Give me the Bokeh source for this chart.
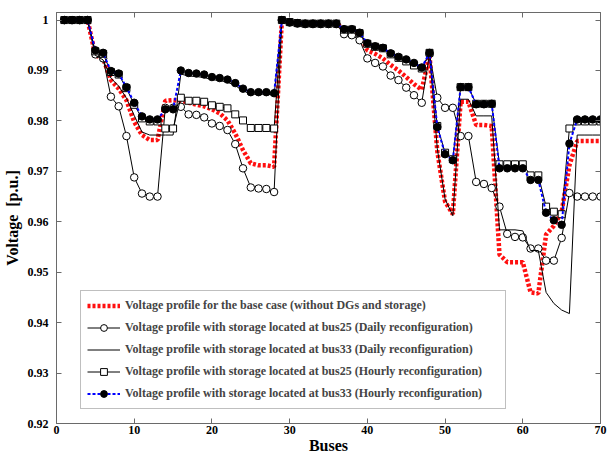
from bokeh.plotting import figure
from bokeh.models import LinearAxis, FixedTicker, Range1d, PrintfTickFormatter
from bokeh.embed import file_html
from bokeh.resources import INLINE

# Bus numbers along the feeder
buses = list(range(1, 71))

# Base case (no DGs, no storage)
v_base = [1.0, 1.0, 1.0, 1.0, 0.9930, 0.9924, 0.9881, 0.9864, 0.9841, 0.9798,
          0.9772, 0.9762, 0.9762, 0.9840, 0.9841, 0.9840, 0.9836, 0.9832, 0.9829, 0.9823,
          0.9815, 0.9801, 0.9775, 0.9742, 0.9716, 0.9712, 0.9712, 0.9709, 1.0, 0.9996,
          0.9994, 0.9993, 0.9993, 0.9993, 0.9993, 0.9993, 0.9982, 0.9982, 0.9970, 0.9940,
          0.9933, 0.9924, 0.9911, 0.9900, 0.9887, 0.9873, 0.9862, 0.9930, 0.9740, 0.9640,
          0.9615, 0.9838, 0.9838, 0.9792, 0.9792, 0.9790, 0.9535, 0.9520, 0.9520, 0.9520,
          0.9460, 0.9458, 0.9575, 0.9592, 0.9620, 0.9712, 0.9760, 0.9760, 0.9760, 0.9760]

# Storage at bus 25, daily reconfiguration
v_s25_daily = [1.0, 1.0, 1.0, 1.0, 0.9932, 0.9924, 0.9848, 0.9829, 0.9770, 0.9688,
               0.9656, 0.9650, 0.9650, 0.9826, 0.9826, 0.9828, 0.9813, 0.9812, 0.9807, 0.9795,
               0.9790, 0.9782, 0.9754, 0.9706, 0.9668, 0.9666, 0.9665, 0.9659, 1.0, 0.9995,
               0.9993, 0.9992, 0.9992, 0.9992, 0.9992, 0.9992, 0.9972, 0.9970, 0.9960, 0.9924,
               0.9915, 0.9908, 0.9890, 0.9881, 0.9866, 0.9851, 0.9836, 0.9933, 0.9846, 0.9826,
               0.9826, 0.9770, 0.9770, 0.9679, 0.9675, 0.9667, 0.9630, 0.9576, 0.9570, 0.9569,
               0.9547, 0.9547, 0.9523, 0.9523, 0.9568, 0.9657, 0.9650, 0.9650, 0.9650, 0.9650]

# Storage at bus 33, daily reconfiguration
v_s33_daily = [1.0, 1.0, 1.0, 1.0, 0.9930, 0.9921, 0.9885, 0.9869, 0.9845, 0.9811,
               0.9778, 0.9772, 0.9772, 0.9772, 0.9772, 0.9893, 0.9889, 0.9888, 0.9886, 0.9882,
               0.9880, 0.9877, 0.9870, 0.9860, 0.9853, 0.9853, 0.9853, 0.9851, 1.0, 0.9996,
               0.9994, 0.9993, 0.9993, 0.9993, 0.9993, 0.9993, 0.9981, 0.9981, 0.9974, 0.9953,
               0.9946, 0.9943, 0.9932, 0.9925, 0.9920, 0.9913, 0.9904, 0.9932, 0.9745, 0.9645,
               0.9612, 0.9843, 0.9843, 0.9810, 0.9810, 0.9810, 0.9584, 0.9584, 0.9584, 0.9582,
               0.9543, 0.9543, 0.9460, 0.9438, 0.9425, 0.9418, 0.9772, 0.9772, 0.9772, 0.9772]

# Storage at bus 25, hourly reconfiguration
v_s25_hourly = [1.0, 1.0, 1.0, 1.0, 0.9938, 0.9933, 0.9897, 0.9892, 0.9865, 0.9832,
                0.9805, 0.9799, 0.9799, 0.9785, 0.9785, 0.9846, 0.9840, 0.9840, 0.9838, 0.9831,
                0.9828, 0.9825, 0.9813, 0.9801, 0.9786, 0.9786, 0.9786, 0.9785, 1.0, 0.9996,
                0.9994, 0.9993, 0.9993, 0.9993, 0.9993, 0.9993, 0.9981, 0.9981, 0.9974, 0.9953,
                0.9947, 0.9944, 0.9932, 0.9925, 0.9918, 0.9910, 0.9904, 0.9935, 0.9790, 0.9737,
                0.9724, 0.9867, 0.9867, 0.9834, 0.9834, 0.9834, 0.9714, 0.9714, 0.9714, 0.9714,
                0.9692, 0.9692, 0.9630, 0.9620, 0.9615, 0.9785, 0.9799, 0.9799, 0.9799, 0.9799]

# Storage at bus 33, hourly reconfiguration
v_s33_hourly = [1.0, 1.0, 1.0, 1.0, 0.9940, 0.9935, 0.9899, 0.9894, 0.9867, 0.9836,
                0.9809, 0.9803, 0.9803, 0.9823, 0.9823, 0.9900, 0.9895, 0.9894, 0.9892, 0.9887,
                0.9885, 0.9882, 0.9875, 0.9864, 0.9857, 0.9857, 0.9857, 0.9855, 1.0, 0.9996,
                0.9994, 0.9993, 0.9993, 0.9993, 0.9993, 0.9993, 0.9982, 0.9982, 0.9975, 0.9954,
                0.9948, 0.9945, 0.9934, 0.9927, 0.9922, 0.9915, 0.9906, 0.9935, 0.9788, 0.9734,
                0.9722, 0.9867, 0.9867, 0.9833, 0.9833, 0.9834, 0.9706, 0.9706, 0.9706, 0.9706,
                0.9683, 0.9683, 0.9618, 0.9603, 0.9594, 0.9755, 0.9803, 0.9803, 0.9803, 0.9803]

labels = [
    "Voltage profile for the base case (without DGs and storage)",
    "Voltage profile with storage located at bus25 (Daily reconfiguration)",
    "Voltage profile with storage located at bus33 (Daily reconfiguration)",
    "Voltage profile with storage located at bus25 (Hourly reconfiguration)",
    "Voltage profile with storage located at bus33 (Hourly reconfiguration)",
]

x_ticks = [0, 10, 20, 30, 40, 50, 60, 70]
y_ticks = [0.92, 0.93, 0.94, 0.95, 0.96, 0.97, 0.98, 0.99, 1.0]

FONT = "Liberation Serif"
AXIS_GRAY = "#6a6a6a"

p = figure(width=609, height=456, output_backend="svg", toolbar_location=None,
           x_range=Range1d(0, 70), y_range=Range1d(0.92, 1.0015),
           min_border_left=55, min_border_right=9, min_border_top=12, min_border_bottom=32)
p.xgrid.visible = False
p.ygrid.visible = False
p.outline_line_color = AXIS_GRAY
p.outline_line_width = 1

# thick red dotted base case
p.line(buses, v_base, line_color="#ff1010", line_width=4.5, line_dash="3 2",
       legend_label=labels[0])

# bus25 daily: thin black line with open circles
p.line(buses, v_s25_daily, line_color="black", line_width=1, legend_label=labels[1])
p.scatter(buses, v_s25_daily, marker="circle", size=7.5, fill_color="white",
          line_color="black", line_width=1, legend_label=labels[1])

# bus33 daily: thin black line
p.line(buses, v_s33_daily, line_color="black", line_width=1, legend_label=labels[2])

# bus25 hourly: thin black line with open squares
p.line(buses, v_s25_hourly, line_color="black", line_width=1, legend_label=labels[3])
p.scatter(buses, v_s25_hourly, marker="square", size=7, fill_color="white",
          line_color="black", line_width=1, legend_label=labels[3])

# bus33 hourly: blue dotted line with filled black circles
p.line(buses, v_s33_hourly, line_color="#0000ff", line_width=2, line_dash="3 2",
       legend_label=labels[4])
p.scatter(buses, v_s33_hourly, marker="circle", size=7.5, fill_color="black",
          line_color="black", legend_label=labels[4])

# main axes
for ax in (p.xaxis[0], p.yaxis[0]):
    ax.axis_line_color = AXIS_GRAY
    ax.major_tick_line_color = AXIS_GRAY
    ax.major_tick_in = 5
    ax.major_tick_out = 0
    ax.minor_tick_line_color = None
    ax.major_label_text_font = FONT
    ax.major_label_text_font_style = "bold"
    ax.major_label_text_font_size = "12px"
    ax.major_label_text_color = "black"
    ax.axis_label_text_font = FONT
    ax.axis_label_text_font_style = "bold"
    ax.axis_label_text_font_size = "16px"
    ax.axis_label_text_color = "black"

p.xaxis[0].ticker = FixedTicker(ticks=x_ticks)
p.yaxis[0].ticker = FixedTicker(ticks=y_ticks)
p.yaxis[0].formatter = PrintfTickFormatter(format="%.2f")
p.yaxis[0].major_label_overrides = {1: "1"}
p.xaxis[0].axis_label = "Buses"
p.yaxis[0].axis_label = "Voltage\u00a0\u00a0[p.u.]"
p.xaxis[0].major_label_standoff = 2
p.xaxis[0].axis_label_standoff = 0
p.yaxis[0].major_label_standoff = 8
p.yaxis[0].axis_label_standoff = 4

# mirrored tick marks on top and right, labels hidden
def tick_only_axis(ticks):
    return LinearAxis(ticker=FixedTicker(ticks=ticks), major_label_text_color=None,
                      major_label_text_font_size="1px", major_label_standoff=0,
                      axis_line_color=AXIS_GRAY, major_tick_line_color=AXIS_GRAY,
                      major_tick_in=5, major_tick_out=0, minor_tick_line_color=None)

p.add_layout(tick_only_axis(x_ticks), "above")
p.add_layout(tick_only_axis(y_ticks), "right")

lg = p.legend[0]
lg.location = (24, 14)
lg.border_line_color = "#808080"
lg.border_line_width = 1
lg.background_fill_color = "white"
lg.background_fill_alpha = 1
lg.label_text_font = FONT
lg.label_text_font_style = "bold"
lg.label_text_font_size = "12px"
lg.glyph_width = 33
lg.glyph_height = 17
lg.spacing = 5
lg.padding = 6
lg.margin = 0
lg.label_standoff = 5
lg.label_width = 374

open("out.html", "w").write(file_html(p, INLINE))
